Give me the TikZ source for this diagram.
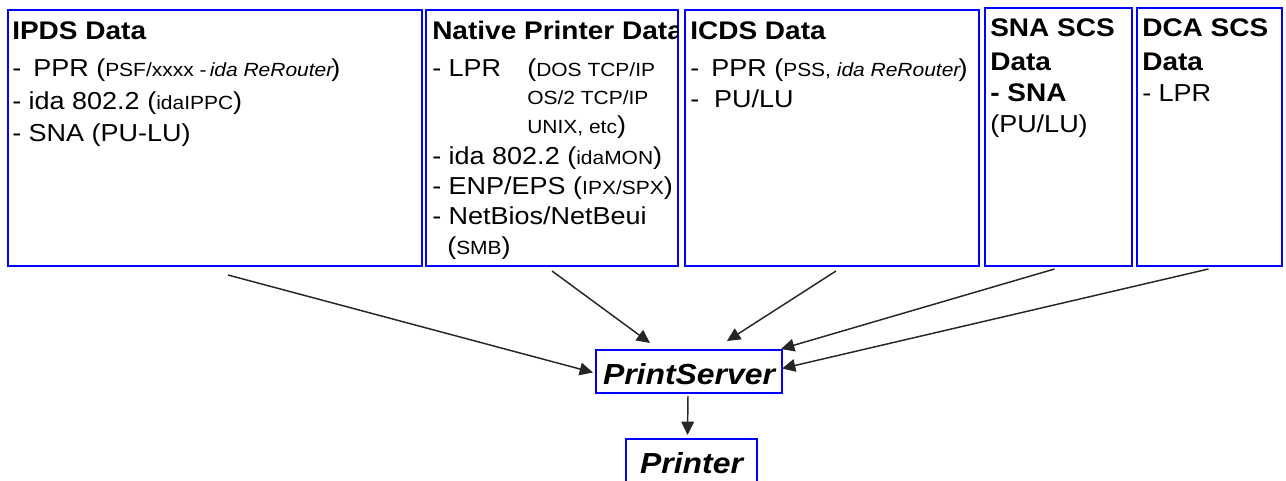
\documentclass[tikz,border=0pt]{standalone}
\usepackage{fontspec}
\setmainfont[FakeStretch=1.1]{Liberation Sans}
\usetikzlibrary{arrows.meta,fit,calc}
\newcommand{\smtxt}{\fontsize{14.3pt}{17pt}\selectfont}
\newcommand{\bodytxt}{\fontsize{18.4pt}{22pt}\selectfont}
\newcommand{\ttltxt}{\fontsize{19.1pt}{23pt}\selectfont}
\newcommand{\pstxt}{\fontsize{21.75pt}{26pt}\selectfont}
\begin{document}
\begin{tikzpicture}[x=0.75pt,y=-0.75pt,
  box/.style={draw=blue, line width=1.5pt, inner sep=0pt},
  txt/.style={anchor=base west, inner sep=0pt, font=\bodytxt},
  ttl/.style={anchor=base west, inner sep=0pt, font=\ttltxt\bfseries},
  pst/.style={anchor=base, inner sep=0pt, font=\pstxt\bfseries\itshape},
  arr/.style={draw=black!85, line width=1.1pt, -{Triangle[length=10pt,width=9.5pt]}}]
\useasboundingbox (0,0) rectangle (1286,481);
\clip (0,0) rectangle (1286,481);
% boxes
\node[box, fit={(8,10)(422,266)}] (ipds) {};
\node[box, fit={(426,10)(678,266)}] (nat) {};
\node[box, fit={(685,10)(979,266)}] (icds) {};
\node[box, fit={(985,8)(1132,266)}] (sna) {};
\node[box, fit={(1137,8)(1282,266)}] (dca) {};
\node[box, fit={(596,350)(782,393)}] (ps) {};
\node[box, fit={(626,439)(757,500)}] (pr) {};
% IPDS
\node[ttl] (ipdsT) at (12,40) {IPDS Data};
\node[txt] (ipds1) at (12,77) {-\ \kern3.4pt PPR ({\smtxt PSF/xxxx -\,\textit{ida ReRouter}}\kern-2pt)};
\node[txt] (ipds2) at (12,110) {- ida 802.2 ({\smtxt idaIPPC})};
\node[txt] (ipds3) at (12,142) {- SNA (PU-LU)};
% Native
\begin{scope}
\clip (426,10) rectangle (677,266);
\node[ttl] (natT) at (432,40) {Native Printer Data};
\end{scope}
\node[txt] (nat1) at (432,77) {- LPR};
\node[txt] (nat1b) at (527,77) {({\smtxt DOS TCP/IP}};
\node[txt] (nat2) at (527,105) {\smtxt OS/2 TCP/IP};
\node[txt] (nat3) at (527,134) {{\smtxt UNIX, etc})};
\node[txt] (nat4) at (432,165) {- ida 802.2 ({\smtxt idaMON})};
\node[txt] (nat5) at (432,195) {- ENP/EPS ({\smtxt IPX/SPX})};
\node[txt] (nat6) at (432,224) {- NetBios/NetBeui};
\node[txt] (nat7) at (447,255) {({\smtxt SMB})};
% ICDS
\node[ttl] (icdsT) at (690,40) {ICDS Data};
\node[txt] (icds1) at (690,77) {-\ \kern3.4pt PPR ({\smtxt PSS, \textit{ida ReRouter}}\kern-2pt)};
\node[txt] (icds2) at (690,108) {-\ \ PU/LU};
% SNA SCS
\node[ttl] (snaT1) at (990,37) {SNA SCS};
\node[ttl] (snaT2) at (990,71) {Data};
\node[ttl] (sna1) at (990,102) {- SNA};
\node[txt] (sna2) at (990,133) {(PU/LU)};
% DCA SCS
\node[ttl] (dcaT1) at (1142,37) {DCA SCS};
\node[ttl] (dcaT2) at (1142,71) {Data};
\node[txt] (dca1) at (1142,102) {- LPR};
% PrintServer / Printer labels
\node[pst] (psT) at (689,384) {PrintServer};
\node[pst] (prT) at (691.5,473) {Printer};
% arrows
\draw[arr] ($(ipds.south)+(13,8)$) -- ($(ps.west)+(-2,1)$);
\draw[arr] ($(nat.south)+(0,4)$) -- ($(ps.north)+(-39,-6)$);
\draw[arr] ($(icds.south)+(4,4)$) -- ($(ps.north)+(38,-8)$);
\draw[arr] ($(sna.south)+(-4,2)$) -- ($(ps.north east)+(-2,0)$);
\draw[arr] ($(dca.south)+(-1,2)$) -- ($(ps.east)+(-1,-3)$);
\draw[arr] ($(ps.south)+(-1,2)$) -- ($(pr.north)+(-4,-3)$);
\end{tikzpicture}
\end{document}
